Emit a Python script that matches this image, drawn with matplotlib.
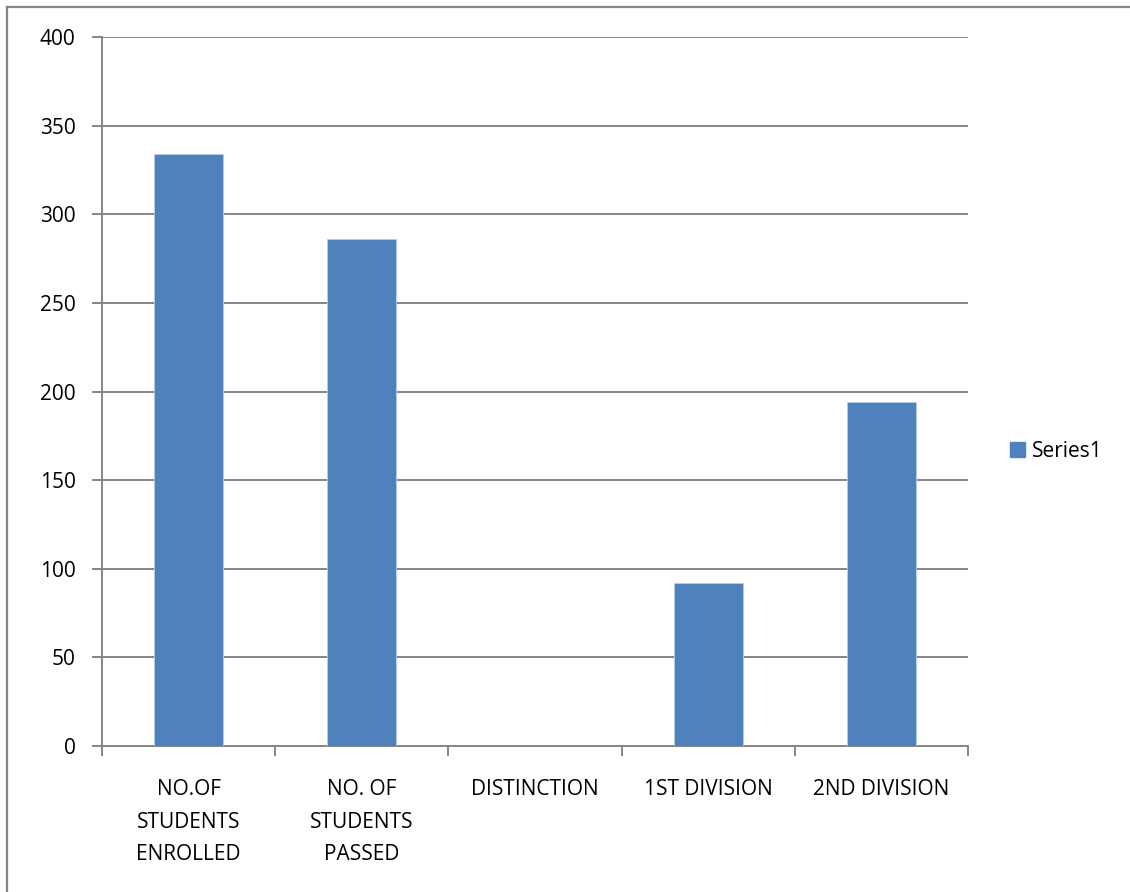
import numpy as np
import matplotlib.pyplot as plt
from matplotlib.lines import Line2D

plt.rcParams['font.family'] = ['Open Sans', 'DejaVu Sans']

categories = ['NO.OF\nSTUDENTS\nENROLLED', 'NO. OF\nSTUDENTS\nPASSED',
              'DISTINCTION', '1ST DIVISION', '2ND DIVISION']
values = [334, 286, 0, 92, 194]
y_ticks = [0, 50, 100, 150, 200, 250, 300, 350, 400]

bar_color = '#4f81bd'
grid_color = '#868686'

fig = plt.figure(figsize=(11.30, 8.92), dpi=100)
ax = fig.add_axes([102 / 1130, 1 - 746 / 892, 866 / 1130, 709 / 892])

x = np.arange(len(categories))
ax.bar(x, values, width=0.4, color=bar_color, edgecolor='#b9cde5', linewidth=0.6, zorder=3)

ax.set_xlim(-0.5, len(categories) - 0.5)
ax.set_ylim(0, 400)
ax.set_yticks(y_ticks)
ax.yaxis.grid(True, color=grid_color, linewidth=1.4, zorder=0)

# category labels on major ticks, tick marks at category boundaries
ax.set_xticks(x)
ax.set_xticklabels(categories, linespacing=1.7, va='top')
ax.set_xticks(np.arange(-0.5, len(categories)), minor=True)
ax.tick_params(axis='x', which='major', length=0, pad=24, labelsize=15, labelcolor='black')
ax.tick_params(axis='x', which='minor', length=7, width=1.4, color=grid_color)
ax.tick_params(axis='y', length=7, width=1.4, color=grid_color, pad=12, labelsize=15, labelcolor='black')

for side in ['top', 'right']:
    ax.spines[side].set_visible(False)
for side in ['left', 'bottom']:
    ax.spines[side].set_color(grid_color)
    ax.spines[side].set_linewidth(1.4)

leg = ax.legend([plt.Rectangle((0, 0), 1, 1, color=bar_color)], ['Series1'],
                loc='center left', bbox_to_anchor=(1.027, 0.416), frameon=False,
                fontsize=15, handlelength=0.7, handleheight=0.7, handletextpad=0.35)

# chart area border (top and left edges)
fig.add_artist(Line2D([7 / 1130, 1], [1 - 7 / 892, 1 - 7 / 892], color=grid_color, linewidth=1.6))
fig.add_artist(Line2D([7 / 1130, 7 / 1130], [0, 1 - 7 / 892], color=grid_color, linewidth=1.6))

fig.savefig('out.png', dpi=100)
